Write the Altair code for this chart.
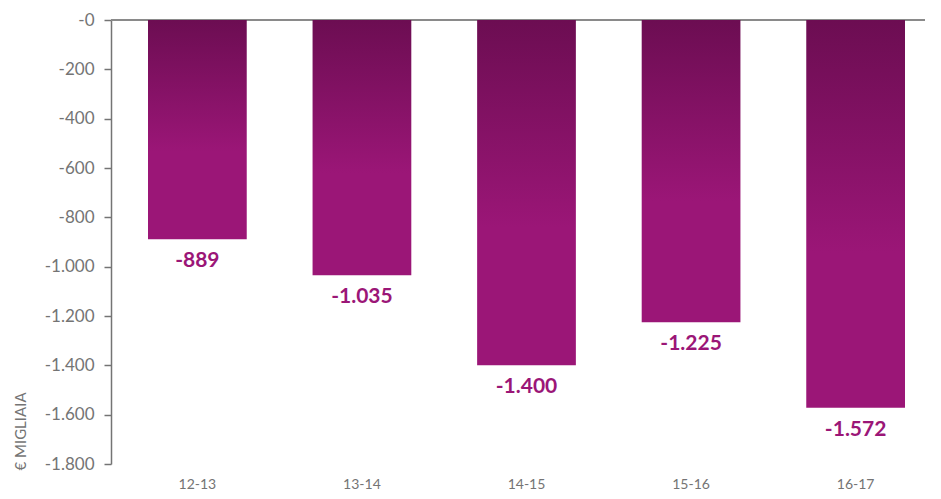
import altair as alt
import pandas as pd

categories = ["12-13", "13-14", "14-15", "15-16", "16-17"]
values = [-889, -1035, -1400, -1225, -1572]
value_labels = ["-889", "-1.035", "-1.400", "-1.225", "-1.572"]
y_ticks = [0, -200, -400, -600, -800, -1000, -1200, -1400, -1600, -1800]

df = pd.DataFrame({"cat": categories, "val": values, "lab": value_labels})
zero = pd.DataFrame({"v": [0]})

FONT = "Lato"
GRAY = "#747474"
PURPLE = "#9b1677"

x_scale = alt.Scale(paddingInner=0.4, paddingOuter=0, range=[37, 794])

x_enc = alt.X(
    "cat:N",
    sort=categories,
    scale=x_scale,
    axis=alt.Axis(
        title=None, domain=False, ticks=False, labelAngle=0,
        labelPadding=13, labelFontSize=14, labelColor=GRAY, labelFont=FONT,
    ),
)

y_scale = alt.Scale(domain=[-1800, 0], nice=False)

bars = alt.Chart(df).mark_bar(
    color=alt.Gradient(
        gradient="linear",
        stops=[
            alt.GradientStop(color="#6c0d52", offset=0),
            alt.GradientStop(color=PURPLE, offset=0.6),
            alt.GradientStop(color=PURPLE, offset=1),
        ],
        x1=0, x2=0, y1=0, y2=1,
    )
).encode(
    x=x_enc,
    y=alt.Y(
        "val:Q",
        scale=y_scale,
        axis=alt.Axis(
            values=y_ticks,
            labelExpr="'-' + replace(format(abs(datum.value), ','), ',', '.')",
            grid=False, domainColor=GRAY, domainWidth=1.5,
            tickColor=GRAY, tickSize=7, tickWidth=1.5,
            labelPadding=10, labelFontSize=17, labelColor=GRAY, labelFont=FONT,
            title="€ MIGLIAIA", titleFontSize=15, titleFontWeight="normal",
            titleColor=GRAY, titleFont=FONT, titleAngle=270,
            titleAlign="left", titleBaseline="middle",
            titleX=-91, titleY=450,
        ),
    ),
)

rule = alt.Chart(zero).mark_rule(color="#8a8a8a", strokeWidth=2).encode(
    y=alt.Y("v:Q", scale=y_scale)
)

text = alt.Chart(df).mark_text(
    dy=22, fontSize=21, fontWeight="bold", color=PURPLE, font=FONT, baseline="middle"
).encode(
    x=alt.X("cat:N", sort=categories, scale=x_scale),
    y=alt.Y("val:Q", scale=y_scale),
    text="lab:N",
)

chart = alt.layer(rule, bars, text).properties(
    width=814,
    height=444,
    autosize=alt.AutoSizeParams(type="none"),
    padding={"left": 103, "top": 12, "right": 0, "bottom": 27},
).configure_view(stroke=None)

chart.save("out.html", embed_options={"renderer": "svg", "actions": False})
